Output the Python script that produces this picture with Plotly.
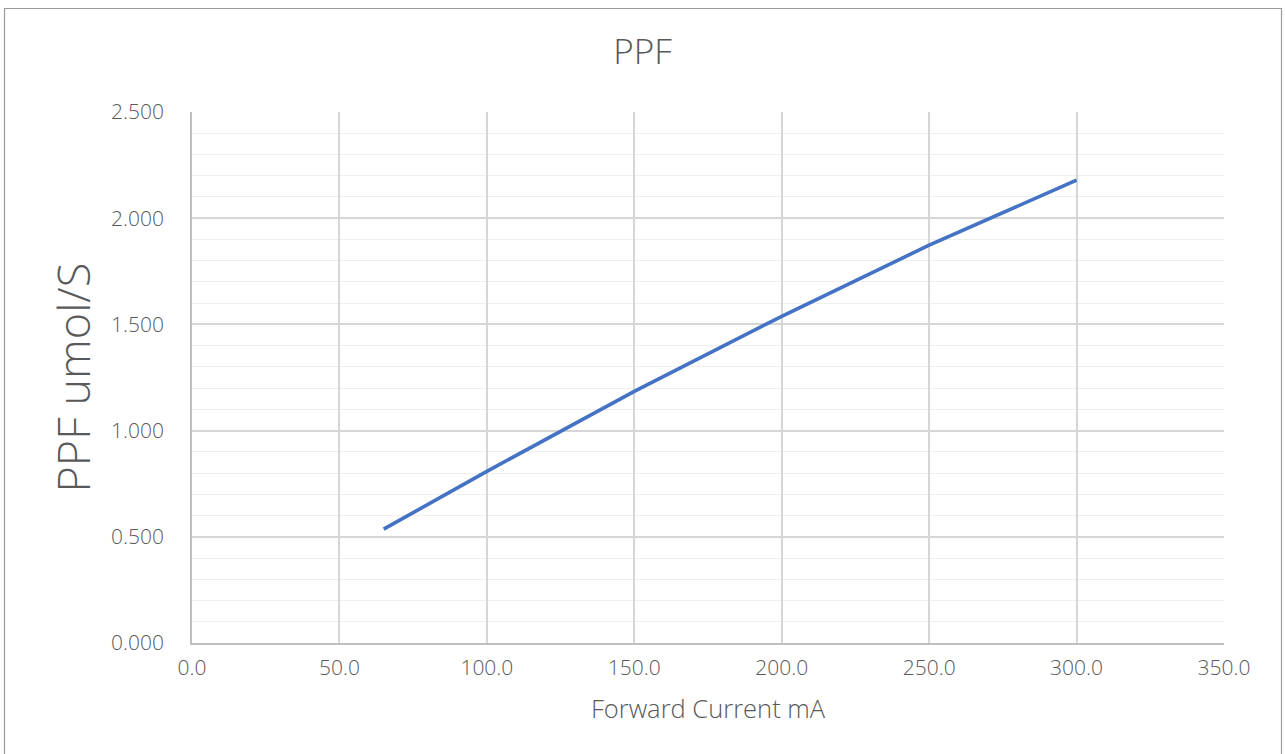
import plotly.graph_objects as go

# forward current (mA) vs photosynthetic photon flux (umol/s)
current_ma = [65, 100, 150, 200, 250, 300]
ppf_umol_s = [0.536, 0.808, 1.185, 1.538, 1.873, 2.179]

x_ticks = [0, 50, 100, 150, 200, 250, 300, 350]
y_ticks = [0, 0.5, 1.0, 1.5, 2.0, 2.5]

W, H = 1285, 754
L, R, T, B = 192, 61, 112, 111
pw, ph = W - L - R, H - T - B

text_grey = "#595959"
font_family = "Open Sans, Noto Sans, DejaVu Sans, sans-serif"

fig = go.Figure()
fig.add_trace(go.Scatter(
    x=current_ma,
    y=ppf_umol_s,
    mode="lines",
    line=dict(color="#4472C4", width=3.6),
    showlegend=False,
))

fig.update_layout(
    width=W,
    height=H,
    margin=dict(l=L, r=R, t=T, b=B),
    paper_bgcolor="white",
    plot_bgcolor="white",
    font=dict(family=font_family, color=text_grey, size=21, weight=300),
    title=dict(
        text="PPF",
        x=0.5,
        xref="container",
        xanchor="center",
        y=1 - 52 / H,
        yanchor="middle",
        font=dict(size=35, color=text_grey, weight=300),
    ),
    xaxis=dict(
        range=[0, 350],
        tickvals=x_ticks,
        tickformat=".1f",
        showgrid=True,
        gridcolor="#d6d6d6",
        gridwidth=1.5,
        showline=True,
        linecolor="#bfbfbf",
        linewidth=1.6,
        zeroline=False,
        ticks="outside",
        ticklen=0,
        ticklabelstandoff=5,
        tickfont=dict(size=21, color=text_grey, weight=300),
        fixedrange=True,
    ),
    yaxis=dict(
        range=[0, 2.5],
        tickvals=y_ticks,
        tickformat=".3f",
        showgrid=True,
        gridcolor="#d6d6d6",
        gridwidth=1.5,
        minor=dict(dtick=0.1, showgrid=True, gridcolor="#efefef", gridwidth=1.4),
        showline=True,
        linecolor="#bfbfbf",
        linewidth=1.6,
        zeroline=False,
        ticks="outside",
        ticklen=0,
        ticklabelstandoff=22,
        tickfont=dict(size=21, color=text_grey, weight=300),
        fixedrange=True,
    ),
    annotations=[
        dict(
            text="Forward Current mA",
            xref="paper", yref="paper",
            x=0.5, y=(643 - 708) / ph,
            xanchor="center", yanchor="middle",
            showarrow=False,
            font=dict(size=25.5, color=text_grey, weight=300),
        ),
        dict(
            text="PPF umol/S",
            xref="paper", yref="paper",
            x=(72 - L) / pw, y=0.5,
            xanchor="center", yanchor="middle",
            textangle=-90,
            showarrow=False,
            font=dict(size=45, color=text_grey, weight=300),
        ),
    ],
    shapes=[
        # chart-area border
        dict(
            type="rect",
            xref="paper", yref="paper",
            x0=(4.5 - L) / pw, x1=(1281.5 - L) / pw,
            y0=(H - T - 765) / ph, y1=(H - T - 7.5) / ph,
            line=dict(color="#9a9a9a", width=1.2),
            fillcolor="rgba(0,0,0,0)",
            layer="below",
        ),
    ],
)

# drop the page's default body margin so the figure sits at the window corner
fig.write_html(
    "out.html",
    config={"displayModeBar": False},
    post_script="document.body.style.margin='0';document.body.style.overflow='hidden';",
)
